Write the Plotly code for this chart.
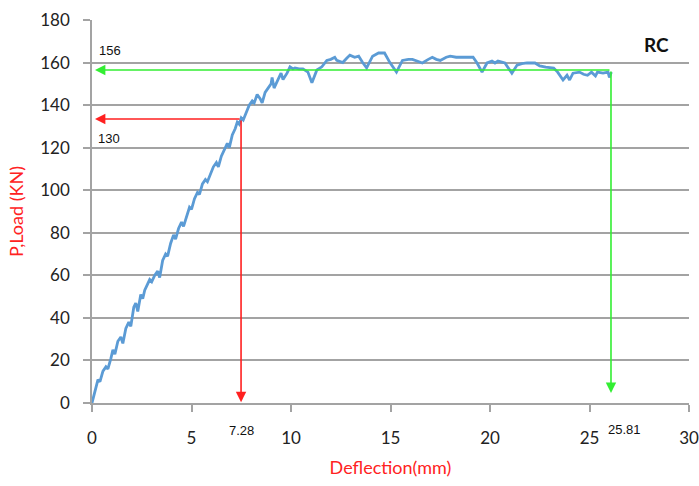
import plotly.graph_objects as go

# Load-deflection curve (RC)
deflection = [0, 0.15, 0.3, 0.4, 0.55, 0.7, 0.8, 0.95, 1.05, 1.15, 1.3, 1.45, 1.55, 1.7, 1.85, 1.95,
              2.1, 2.2, 2.3, 2.45, 2.55, 2.65, 2.8, 2.9, 3.0, 3.15, 3.3, 3.4, 3.55, 3.7, 3.8, 3.95,
              4.1, 4.2, 4.35, 4.5, 4.6, 4.75, 4.9, 5.0, 5.15, 5.3, 5.4, 5.55, 5.7, 5.8, 5.95, 6.1,
              6.25, 6.35, 6.5, 6.65, 6.8, 6.9, 7.05, 7.2, 7.3, 7.4, 7.5, 7.6, 7.75, 7.9, 8.05, 8.15,
              8.3, 8.45, 8.55, 8.7, 8.85, 9.0, 9.05, 9.15, 9.3, 9.5, 9.6, 9.8, 9.95, 10.1, 10.2, 10.4,
              10.6, 10.85, 11.05, 11.3, 11.55, 11.8, 12.0, 12.2, 12.3, 12.6, 12.8, 12.96, 13.2, 13.4,
              13.6, 13.8, 14.1, 14.4, 14.7, 14.97, 15.3, 15.6, 15.9, 16.1, 16.4, 16.6, 16.9, 17.1,
              17.3, 17.5, 17.8, 18.0, 18.3, 18.7, 19.15, 19.35, 19.6, 19.85, 20.1, 20.25, 20.4,
              20.75, 21.1, 21.36, 21.6, 21.86, 22.26, 22.5, 22.8, 23.2, 23.4, 23.67, 23.87, 24.0,
              24.17, 24.5, 24.7, 24.9, 25.1, 25.3, 25.4, 25.68, 25.93, 26.0, 26.1]
load = [0, 6, 11, 10, 15, 17, 16, 21, 25, 23, 29, 31, 28, 35, 38, 36,
        45, 47, 43, 51, 49, 53, 56, 58, 57, 60, 62, 59, 67, 70, 69, 75,
        79, 77, 82, 85, 83, 88, 92, 91, 96, 99, 98, 103, 105, 104, 108, 111,
        113, 111, 116, 119, 122, 120, 126, 129, 132, 131, 134, 133, 137, 140, 142, 141,
        145, 143, 141, 146, 148, 150, 153, 148, 151, 155, 152, 155, 158, 157, 157.5, 157,
        157, 155.5, 150.5, 156.5, 158, 161, 161.5, 162.5, 161, 160, 162, 163.5, 162.5, 163,
        160, 157.5, 163, 164.5, 164.5, 160, 155.5, 161, 161.5, 161.5, 160.5, 159.8, 161.5, 162.5,
        161.5, 161, 162.5, 163, 162.5, 162.5, 162.5, 159.8, 155.5, 159.8, 160.7, 159.8, 160.7,
        159.8, 155, 158.8, 159.5, 159.8, 159.8, 158.4, 157.8, 157.4, 155.5, 151.8, 154, 151.8,
        155, 155.5, 154.5, 154, 155.5, 153.7, 155.5, 155, 155.5, 153, 155.5]

# Marker lines (yield / ultimate)
yield_defl_line = 7.49
yield_load_line = 133.5
ult_defl_line = 26.08
ult_load_line = 156.5

x_ticks = [0, 5, 10, 15, 20, 25, 30]
y_ticks = [0, 20, 40, 60, 80, 100, 120, 140, 160, 180]

TICK_FONT = dict(family="Lato, Open Sans, sans-serif", size=17, color="#222222")
GRID = "#a3a3a3"

fig = go.Figure()
fig.add_trace(go.Scatter(x=deflection, y=load, mode="lines",
                         line=dict(color="#5b9bd5", width=2.8), showlegend=False,
                         hoverinfo="skip"))

# vertical/horizontal reference lines with arrowheads
def arrow(x, y, ax, ay, color):
    fig.add_annotation(x=x, y=y, ax=ax, ay=ay, xref="x", yref="y", axref="x", ayref="y",
                       showarrow=True, arrowhead=2, arrowsize=1.3, arrowwidth=1.6,
                       arrowcolor=color, standoff=0, text="")

arrow(0.15, yield_load_line, yield_defl_line, yield_load_line, "#ff2020")
arrow(yield_defl_line, 0.4, yield_defl_line, yield_load_line, "#ff2020")
arrow(0.15, ult_load_line, ult_defl_line, ult_load_line, "#33ee33")
arrow(ult_defl_line, 4.7, ult_defl_line, ult_load_line, "#33ee33")

LABEL_FONT = dict(family="Liberation Sans, Arial, sans-serif", size=13, color="#111111")
fig.add_annotation(x=0.9, y=165.5, text="156", showarrow=False, font=LABEL_FONT)
fig.add_annotation(x=0.85, y=124.5, text="130", showarrow=False, font=LABEL_FONT)
fig.add_annotation(x=7.5, y=0, yshift=-27, text="7.28", showarrow=False, font=LABEL_FONT)
fig.add_annotation(x=26.75, y=0, yshift=-26, text="25.81", showarrow=False, font=LABEL_FONT)
fig.add_annotation(x=28.35, y=168.7, text="<b>RC</b>", showarrow=False,
                   font=dict(family="Lato, Open Sans, sans-serif", size=19, color="#111111"))

fig.update_layout(
    width=699, height=486,
    margin=dict(l=92, r=10, t=20, b=83),
    paper_bgcolor="white", plot_bgcolor="white",
    xaxis=dict(range=[0, 30], tickvals=x_ticks, ticktext=[str(v) for v in x_ticks],
               automargin=False,
               showgrid=False, zeroline=False, showline=True, linecolor=GRID, linewidth=1.5,
               ticks="outside", ticklen=7, tickwidth=1.5, tickcolor=GRID,
               tickfont=TICK_FONT, ticklabelstandoff=12,
               title=dict(text="Deflection(mm)", standoff=14,
                          font=dict(family="Lato, Open Sans, sans-serif", size=18, color="#ff2222"))),
    yaxis=dict(range=[0, 180], tickvals=y_ticks, ticktext=[str(v) for v in y_ticks],
               automargin=False,
               showgrid=True, gridcolor=GRID, gridwidth=1.5, zeroline=False,
               showline=True, linecolor=GRID, linewidth=1.5,
               ticks="outside", ticklen=7, tickwidth=1.5, tickcolor=GRID,
               tickfont=TICK_FONT, ticklabelstandoff=10,
               title=dict(text="P,Load (KN)", standoff=12,
                          font=dict(family="Lato, Open Sans, sans-serif", size=18, color="#ff2222"))),
)

fig.write_html("out.html")
